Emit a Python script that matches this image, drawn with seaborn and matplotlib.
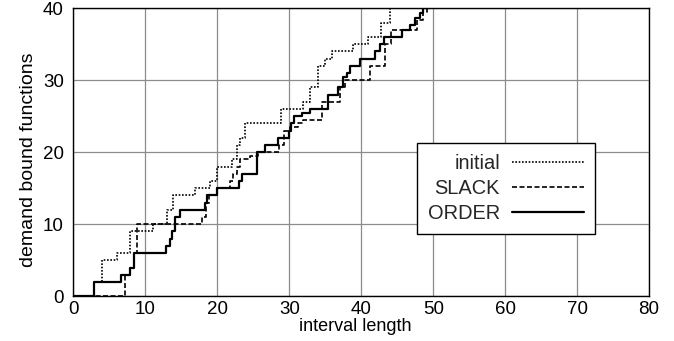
import matplotlib
matplotlib.use("Agg")
import matplotlib.pyplot as plt
import seaborn as sns

# ── Data ─────────────────────────────────────────────────────────────────────
# step functions: value holds from each x until the next x
initial_x = [0, 2.8, 3.9, 6.0, 7.9, 11.1, 13.0, 13.9, 16.9, 19.0, 19.9, 22.0,
             22.7, 23.2, 23.8, 28.9, 31.9, 32.9, 34.0, 35.0, 35.9, 38.9, 41.0,
             42.8, 44.0]
initial_y = [0, 2, 5, 6, 9, 10, 12, 14, 15, 16, 18, 19,
             21, 22, 24, 26, 27, 29, 32, 33, 34, 35, 36,
             38, 41]

slack_x = [0, 7.2, 7.9, 8.4, 8.8, 17.9, 18.4, 18.9, 20.0, 21.8, 22.2, 22.7,
           23.2, 24.5, 25.6, 28.5, 29.2, 30.1, 31.25, 31.9, 34.5, 37.0, 37.7,
           41.2, 43.3, 44.2, 47.7, 48.6, 49.2]
slack_y = [0, 3, 4, 6, 10, 11, 13, 14, 15, 16, 17, 18,
           19, 19.5, 20, 21, 23, 23.5, 24, 24.5, 27, 29, 30,
           32, 35, 37, 38.4, 39.5, 41]

order_x = [0, 2.8, 6.6, 7.9, 8.4, 12.9, 13.4, 13.7, 14.1, 14.8, 18.3, 18.5,
           19.9, 23.0, 23.4, 25.5, 26.6, 28.4, 29.9, 30.2, 30.6, 31.7, 32.9,
           35.4, 36.8, 37.5, 38.0, 38.4, 39.8, 41.9, 42.6, 43.1, 45.6, 46.8,
           47.5, 48.2, 48.6, 49.6]
order_y = [0, 2, 3, 4, 6, 7, 8, 9, 11, 12, 13, 14,
           15, 16, 17, 20, 21, 22, 23, 24, 25, 25.5, 26,
           28, 29, 30.5, 31, 32, 33, 34, 35, 36, 37, 37.7,
           38.6, 39.3, 40, 41]

series_labels = ["initial", "SLACK", "ORDER"]
x_ticks = [0, 10, 20, 30, 40, 50, 60, 70, 80]
y_ticks = [0, 10, 20, 30, 40]

# ── Figure ───────────────────────────────────────────────────────────────────
sns.set_theme(style="white")
plt.rcParams["font.family"] = ["Liberation Sans", "DejaVu Sans"]

fig, ax = plt.subplots(figsize=(6.74, 3.41), dpi=100)
fig.subplots_adjust(left=0.109, right=0.963, bottom=0.131, top=0.976)

sns.lineplot(x=initial_x, y=initial_y, ax=ax, estimator=None, sort=False,
             drawstyle="steps-post", color="black", lw=1.2,
             linestyle=(0, (1, 1)), label=series_labels[0])
sns.lineplot(x=slack_x, y=slack_y, ax=ax, estimator=None, sort=False,
             drawstyle="steps-post", color="black", lw=1.2,
             linestyle=(0, (3, 1.5)), label=series_labels[1])
sns.lineplot(x=order_x, y=order_y, ax=ax, estimator=None, sort=False,
             drawstyle="steps-post", color="black", lw=1.6,
             linestyle="-", label=series_labels[2])

ax.set_xlim(0, 80)
ax.set_ylim(0, 40)
ax.set_xticks(x_ticks)
ax.set_yticks(y_ticks)
ax.tick_params(length=0, labelsize=13.5, colors="black")
ax.tick_params(axis="x", pad=3.5)
ax.tick_params(axis="y", pad=7)
ax.grid(True, color="#8c8c8c", lw=0.9)
for sp in ax.spines.values():
    sp.set_color("black")
    sp.set_linewidth(1.0)

ax.set_xlabel("interval length", fontsize=13, labelpad=0, color="black", x=0.49)
ax.set_ylabel("demand bound functions", fontsize=14, labelpad=4, color="black",
              y=0.473)

leg = ax.legend(loc="upper right", bbox_to_anchor=(0.906, 0.531),
                markerfirst=False, frameon=True, fancybox=False,
                edgecolor="black", framealpha=1, fontsize=14.4,
                handlelength=3.6, handletextpad=0.6, labelspacing=0.3,
                borderpad=0.55, borderaxespad=0)
leg.get_frame().set_linewidth(1.0)

plt.savefig("out.png", dpi=100)
plt.close()
